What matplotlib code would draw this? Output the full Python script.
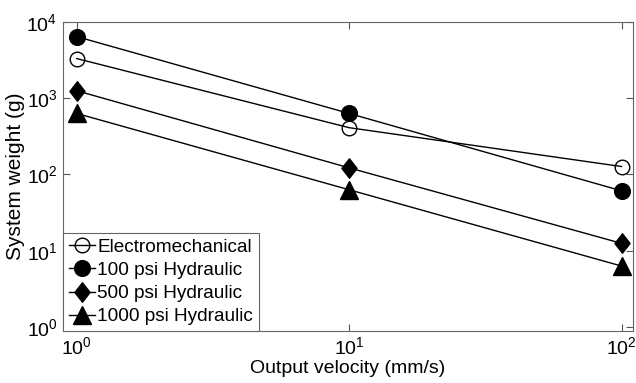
import matplotlib.pyplot as plt
from matplotlib.path import Path

plt.rcParams["font.family"] = ["Liberation Sans", "DejaVu Sans"]

# 데이터
velocity = [1, 10, 100]
electromech = [3300, 410, 127]
hyd_100 = [6400, 630, 61]
hyd_500 = [1250, 122, 12.5]
hyd_1000 = [630, 63, 6.3]
labels = ["Electromechanical", "100 psi Hydraulic", "500 psi Hydraulic", "1000 psi Hydraulic"]

# MATLAB 스타일 다이아몬드 (조금 넓게)
diamond = Path([(0, 1), (0.78, 0), (0, -1), (-0.78, 0), (0, 1)],
               [Path.MOVETO, Path.LINETO, Path.LINETO, Path.LINETO, Path.CLOSEPOLY])

fig = plt.figure(figsize=(6.36, 3.83), dpi=100)
ax = fig.add_axes([0.099, 0.136, 0.896, 0.807])

ax.plot(velocity, electromech, "-o", color="black", mfc="none", mec="black",
        ms=10.5, lw=1, label=labels[0])
ax.plot(velocity, hyd_100, "-o", color="black", ms=11.3, lw=1, label=labels[1])
ax.plot(velocity, hyd_500, "-", marker=diamond, color="black", ms=14, lw=1,
        label=labels[2])
ax.plot(velocity, hyd_1000, "-^", color="black", ms=13.5, lw=1, label=labels[3])

ax.set_xscale("log")
ax.set_yscale("log")
ax.set_xlim(0.89, 110)
ax.set_ylim(0.89, 1e4)
ax.set_xticks([1, 10, 100])
ax.set_yticks([1, 10, 100, 1000, 10000])
ax.minorticks_off()
ax.tick_params(direction="in", top=True, right=True, labelsize=14, length=5,
               color="#555555", pad=4)
for s in ax.spines.values():
    s.set_color("#666666")
    s.set_linewidth(0.8)

ax.set_xlabel("Output velocity (mm/s)", fontsize=14, labelpad=1)
ax.set_ylabel("System weight (g)", fontsize=15, labelpad=1)

leg = ax.legend(loc="lower left", fontsize=13.7, handlelength=1.4, handletextpad=0.1,
                borderaxespad=0, borderpad=0.3, labelspacing=0.3, fancybox=False,
                framealpha=1)
leg.get_frame().set_edgecolor("#666666")
leg.get_frame().set_linewidth(0.8)

plt.savefig("out.png", dpi=100)
